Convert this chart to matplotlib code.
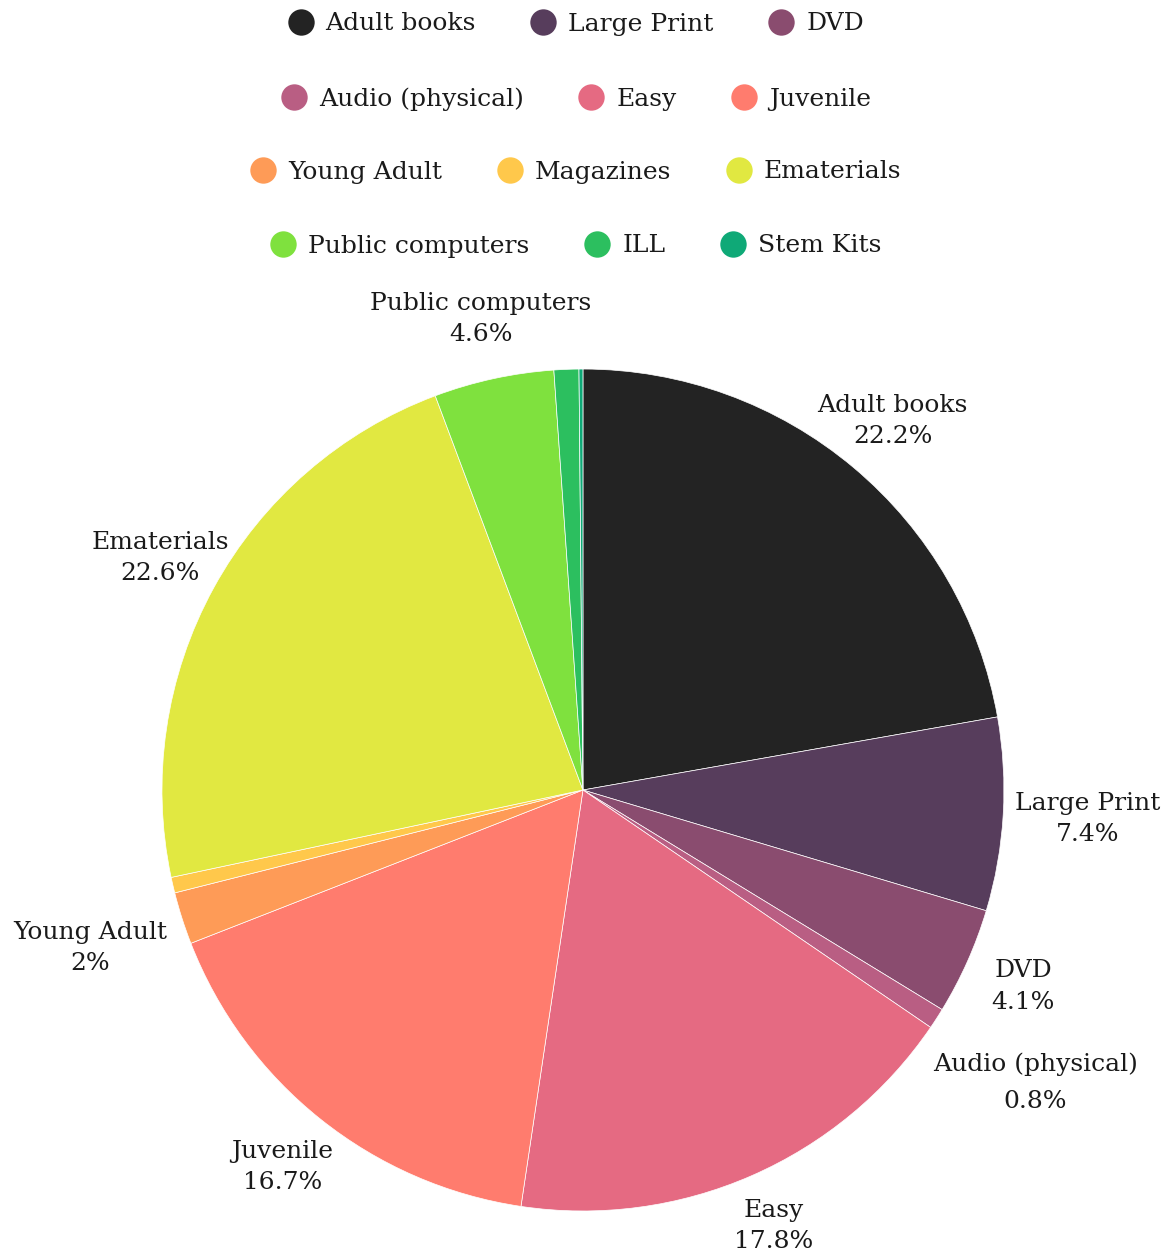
import numpy as np
import matplotlib
matplotlib.use("Agg")
import matplotlib.pyplot as plt
from matplotlib.lines import Line2D

categories = ["Adult books", "Large Print", "DVD", "Audio (physical)", "Easy",
              "Juvenile", "Young Adult", "Magazines", "Ematerials",
              "Public computers", "ILL", "Stem Kits"]
shares = [22.2, 7.4, 4.1, 0.8, 17.8, 16.7, 2.0, 0.6, 22.6, 4.6, 0.95, 0.15]
colors = ["#232323", "#573d5c", "#8a4c6f", "#b95e83", "#e56a82", "#ff7c6e",
          "#fe9b57", "#ffc84b", "#e1e841", "#7fe13e", "#2cbf5f", "#0fa977"]
no_label = ["Magazines", "ILL", "Stem Kits"]

plt.rcParams['font.family'] = ['DejaVu Serif']
txt_col = "#1a1a1a"
fs = 18

fig = plt.figure(figsize=(11.72, 12.58), dpi=100)
ax = fig.add_axes([0.1382, 0.03736, 0.7184, 0.6693])
wedges, _ = ax.pie(shares, colors=colors, startangle=90, counterclock=False,
                   radius=1, wedgeprops=dict(edgecolor="white", linewidth=0.5))
ax.set_xlim(-1, 1)
ax.set_ylim(-1, 1)
ax.set_aspect("equal")
ax.axis("off")

# labels a bit outside the pie, some pushed out so they dont collide
dist = {"Large Print": 1.2, "Audio (physical)": 1.28, "Young Adult": 1.23,
        "Easy": 1.13}
for w, name, v in zip(wedges, categories, shares):
    if name in no_label:
        continue
    a = np.deg2rad((w.theta1 + w.theta2) / 2)
    r = dist.get(name, 1.145)
    ls = 1.75 if name == "Audio (physical)" else 1.45
    ax.text(r * np.cos(a), r * np.sin(a), f"{name}\n{v:g}%", ha="center",
            va="center", fontsize=fs, color=txt_col, linespacing=ls,
            clip_on=False)

# legend, one centered row per 3 items
handles = [Line2D([], [], marker="o", ls="", markersize=19, color=c,
                  markeredgewidth=0) for c in colors]
row_y = [1 - 24 / 1258, 1 - 99 / 1258, 1 - 172 / 1258, 1 - 246 / 1258]
for k in range(4):
    leg = fig.legend(handles[3 * k:3 * k + 3], categories[3 * k:3 * k + 3],
                     ncol=3, loc="center", bbox_to_anchor=(0.4915, row_y[k]),
                     frameon=False, fontsize=fs, handletextpad=0.5,
                     columnspacing=2.2, handlelength=1.0, borderpad=0)
    for t in leg.get_texts():
        t.set_color(txt_col)

fig.savefig("out.png", dpi=100)
